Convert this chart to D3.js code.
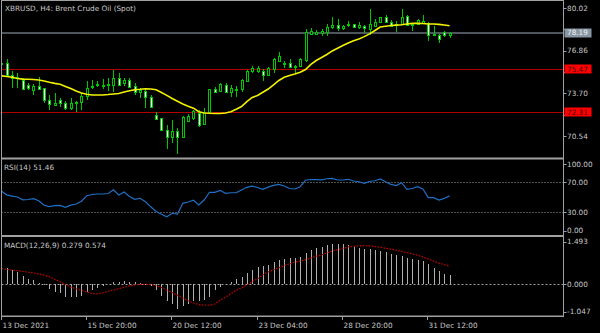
<!DOCTYPE html>
<html>
<head>
<meta charset="utf-8">
<script src="https://cdn.jsdelivr.net/npm/d3@7"></script>
<style>
  html, body { margin: 0; padding: 0; background: #000; }
  svg text { font-family: "DejaVu Sans", sans-serif; font-size: 7.3px; fill: #c8c8c8; }
</style>
</head>
<body>
<div id="chart"></div>
<script>
// XBRUSD H4 bars (prices)
const opens = [75.91, 75.91, 75.09, 74.85, 74.72, 74.35, 73.98, 74.24, 74.06, 73.17,
  72.87, 73.21, 73.02, 72.65, 73.01, 73.04, 73.50, 74.22, 74.33, 74.29,
  74.33, 74.35, 74.87, 74.43, 74.72, 74.24, 73.80, 73.87, 73.45, 72.09,
  71.84, 70.98, 70.49, 70.91, 70.49, 71.65, 71.85, 72.28, 71.43, 72.34,
  74.00, 73.89, 74.35, 73.82, 73.98, 74.00, 74.61, 75.32, 75.32, 75.38,
  75.06, 75.48, 76.12, 75.95, 75.97, 75.72, 75.75, 76.17, 78.10, 78.10,
  78.17, 78.27, 78.59, 78.76, 78.52, 78.81, 78.84, 78.61, 78.69, 78.44,
  78.69, 79.01, 79.33, 79.01, 78.81, 78.84, 79.43, 78.81, 78.84, 78.91,
  78.93, 78.04, 78.02, 78.27, 78.02];
const highs = [76.02, 76.21, 75.35, 75.24, 74.80, 74.43, 74.39, 74.91, 74.09, 73.58,
  73.72, 73.32, 73.13, 73.32, 73.13, 73.69, 74.61, 74.69, 74.58, 74.76,
  74.87, 75.46, 75.17, 74.87, 74.84, 74.50, 74.09, 74.06, 73.54, 72.35,
  71.87, 71.39, 71.72, 71.13, 72.02, 72.17, 72.47, 72.47, 72.61, 74.02,
  74.17, 74.43, 74.49, 74.32, 74.24, 74.76, 75.46, 75.72, 75.69, 75.50,
  75.65, 76.35, 76.76, 76.13, 76.24, 75.80, 76.28, 78.50, 78.52, 78.39,
  78.46, 78.84, 79.38, 79.17, 78.76, 79.06, 78.86, 78.98, 78.76, 79.92,
  79.17, 79.38, 79.50, 79.13, 79.08, 79.91, 79.50, 78.89, 79.18, 79.50,
  78.95, 78.69, 78.07, 78.34, 78.27];
const lows = [75.87, 75.02, 74.09, 74.06, 73.98, 73.95, 73.54, 73.98, 73.02, 72.47,
  72.76, 72.69, 72.43, 72.47, 72.34, 72.47, 73.24, 74.02, 74.17, 74.02,
  73.87, 73.83, 74.28, 74.28, 74.06, 73.61, 73.35, 72.61, 72.69, 71.80,
  70.95, 69.58, 70.02, 69.21, 70.46, 71.58, 71.72, 71.17, 71.35, 72.32,
  73.75, 73.83, 73.72, 73.46, 73.46, 73.80, 74.58, 75.23, 75.24, 74.65,
  74.98, 75.24, 76.04, 75.58, 75.65, 75.24, 75.69, 76.04, 78.02, 78.02,
  77.95, 77.95, 78.44, 78.34, 78.39, 78.59, 78.54, 78.44, 78.15, 78.02,
  78.64, 78.93, 78.93, 78.64, 78.27, 78.76, 78.69, 78.34, 78.76, 78.84,
  77.60, 77.95, 77.41, 77.89, 77.82];
const closes = [75.95, 75.06, 74.80, 74.89, 74.00, 74.06, 74.24, 74.02, 73.21, 72.91,
  73.02, 72.98, 72.61, 72.95, 73.06, 73.50, 74.06, 74.27, 74.38, 74.33,
  74.37, 74.87, 74.32, 74.72, 74.19, 73.78, 73.95, 73.45, 72.71, 71.82,
  70.98, 70.49, 70.91, 70.49, 71.97, 72.04, 72.39, 71.39, 72.32, 74.00,
  73.78, 74.38, 73.80, 74.13, 74.02, 74.69, 75.38, 75.58, 75.54, 75.06,
  75.55, 76.24, 76.46, 75.98, 75.67, 75.76, 76.22, 78.22, 78.34, 78.27,
  78.34, 78.64, 78.76, 78.52, 78.69, 78.85, 78.59, 78.76, 78.52, 78.84,
  79.01, 79.33, 79.01, 78.69, 78.86, 79.38, 78.76, 78.85, 79.13, 79.09,
  78.02, 78.10, 77.70, 78.02, 78.19];

// yellow moving average
const maValues = [75.00, 74.95, 74.89, 74.80, 74.75, 74.74, 74.72, 74.69, 74.61, 74.52,
  74.44, 74.37, 74.21, 74.05, 73.87, 73.72, 73.63, 73.58, 73.58, 73.58,
  73.61, 73.65, 73.69, 73.80, 73.89, 73.97, 74.00, 74.04, 74.02, 73.96,
  73.76, 73.55, 73.32, 73.11, 72.91, 72.74, 72.60, 72.34, 72.24, 72.22,
  72.21, 72.21, 72.24, 72.34, 72.52, 72.72, 73.09, 73.40, 73.54, 73.78,
  74.02, 74.32, 74.65, 74.89, 75.02, 75.13, 75.26, 75.46, 75.84, 76.13,
  76.35, 76.58, 76.84, 77.04, 77.24, 77.43, 77.60, 77.73, 77.90, 78.10,
  78.35, 78.61, 78.67, 78.72, 78.75, 78.78, 78.84, 78.88, 78.89, 78.87,
  78.84, 78.83, 78.81, 78.76, 78.71];

// RSI(14)
const rsiValues = [58.0, 52.9, 51.1, 50.0, 46.3, 46.7, 47.7, 45.1, 38.9, 37.2,
  38.4, 38.9, 36.3, 39.1, 40.7, 44.4, 51.7, 53.3, 54.0, 54.0,
  54.7, 59.7, 52.7, 56.7, 50.7, 46.9, 48.3, 43.7, 36.9, 30.7,
  27.1, 23.7, 28.3, 27.3, 41.6, 43.3, 45.6, 39.3, 46.0, 56.3,
  56.3, 58.9, 54.9, 55.7, 55.7, 59.3, 62.9, 64.4, 62.7, 60.3,
  63.1, 65.5, 66.7, 64.7, 61.3, 60.7, 63.7, 72.4, 73.3, 73.1,
  72.9, 74.3, 74.9, 72.7, 72.7, 73.6, 71.3, 70.3, 68.3, 70.7,
  71.7, 74.0, 70.3, 66.9, 65.2, 69.1, 60.3, 61.3, 63.7, 60.7,
  49.1, 49.1, 46.0, 48.1, 51.46];

// MACD(12,26,9): main (histogram) and signal
const macdValues = [0.52, 0.50, 0.45, 0.40, 0.26, 0.17, 0.14, 0.05, -0.02, -0.16,
  -0.25, -0.28, -0.39, -0.39, -0.39, -0.36, -0.25, -0.18, -0.13, -0.05,
  0.01, 0.06, 0.08, 0.10, 0.08, 0.06, 0.03, -0.01, -0.05, -0.18,
  -0.37, -0.53, -0.63, -0.79, -0.68, -0.63, -0.53, -0.53, -0.49, -0.39,
  -0.18, -0.07, 0.02, 0.08, 0.16, 0.22, 0.37, 0.45, 0.54, 0.58,
  0.62, 0.70, 0.77, 0.80, 0.82, 0.82, 0.85, 0.98, 1.08, 1.14,
  1.19, 1.24, 1.28, 1.28, 1.27, 1.24, 1.19, 1.15, 1.11, 1.10,
  1.08, 1.05, 1.02, 0.96, 0.91, 0.89, 0.84, 0.80, 0.77, 0.73,
  0.63, 0.52, 0.42, 0.33, 0.279];
const signalValues = [0.50, 0.47, 0.45, 0.43, 0.41, 0.38, 0.36, 0.33, 0.29, 0.24,
  0.16, 0.08, 0.00, -0.09, -0.14, -0.19, -0.24, -0.29, -0.30, -0.27,
  -0.22, -0.18, -0.14, -0.09, -0.05, -0.02, 0.00, 0.00, 0.00, -0.05,
  -0.10, -0.18, -0.26, -0.35, -0.43, -0.52, -0.59, -0.64, -0.66, -0.66,
  -0.62, -0.50, -0.40, -0.30, -0.19, -0.11, -0.02, 0.08, 0.18, 0.30,
  0.39, 0.46, 0.52, 0.59, 0.64, 0.70, 0.73, 0.78, 0.83, 0.88,
  0.93, 0.99, 1.05, 1.09, 1.13, 1.18, 1.20, 1.22, 1.22, 1.21,
  1.19, 1.17, 1.14, 1.11, 1.08, 1.04, 1.00, 0.96, 0.92, 0.86,
  0.80, 0.73, 0.67, 0.62, 0.574];

// axes
const timeTickIndex = [0, 16, 32, 48, 64, 80];
const timeTickLabels = ["13 Dec 2021", "15 Dec 20:00", "20 Dec 12:00", "23 Dec 04:00", "28 Dec 20:00", "31 Dec 12:00"];
const priceTicks = [80.02, 78.44, 76.86, 75.28, 73.70, 72.12, 70.54];
const rsiTicks = [100, 70, 30, 0];
const rsiLevels = [70, 30];
const macdTicks = [1.493, 0, -1.047];
const bidPrice = 78.19;
const redLevels = [75.47, 72.31];

const width = 600, height = 333;
const left = 1.5, right = 563.5;
const mainPane = { top: 1, bottom: 157.5 };
const rsiPane = { top: 159.5, bottom: 235 };
const macdPane = { top: 237, bottom: 316 };

const svg = d3.select("#chart")
              .append("svg")
              .attr("width", width)
              .attr("height", height)
              .style("display", "block")
              .style("background", "#000");

const x = d3.scaleLinear().domain([0, 84]).range([1.4, 449.6]);
const yP = d3.scaleLinear().domain([70.54, 80.02]).range([136, 8]);
const yR = d3.scaleLinear().domain([0, 100]).range([234.5, 159.5]);
const yM = d3.scaleLinear().domain([-1.047, 1.493]).range([317.5, 237]);
const cx = i => Math.round(x(i)) + 0.5;

const bars = d3.range(closes.length).map(i => ({ i, o: opens[i], h: highs[i], l: lows[i], c: closes[i] }));

// clip paths
const defs = svg.append("defs");
[["clipMain", mainPane], ["clipRsi", rsiPane], ["clipMacd", macdPane]].forEach(([id, p]) => {
  defs.append("clipPath").attr("id", id)
      .append("rect")
      .attr("x", left + 0.5).attr("y", p.top)
      .attr("width", right - left - 1).attr("height", p.bottom - p.top);
});

// ---- main pane ----
const gMain = svg.append("g").attr("clip-path", "url(#clipMain)");

gMain.selectAll("line.red")
     .data(redLevels)
     .join("line")
     .attr("class", "red")
     .attr("x1", left).attr("x2", right)
     .attr("y1", d => Math.round(yP(d)) + 0.5)
     .attr("y2", d => Math.round(yP(d)) + 0.5)
     .attr("stroke", "#b00000");

gMain.append("line")
     .attr("x1", left).attr("x2", right)
     .attr("y1", Math.round(yP(bidPrice)))
     .attr("y2", Math.round(yP(bidPrice)))
     .attr("stroke", "#4f555d")
     .attr("stroke-width", 2);

gMain.selectAll("line.wick")
     .data(bars)
     .join("line")
     .attr("class", "wick")
     .attr("x1", d => cx(d.i)).attr("x2", d => cx(d.i))
     .attr("y1", d => Math.round(yP(d.h)))
     .attr("y2", d => Math.round(yP(d.l)))
     .attr("stroke", "#00c800");

gMain.selectAll("rect.body")
     .data(bars)
     .join("rect")
     .attr("class", "body")
     .attr("x", d => cx(d.i) - 1)
     .attr("width", 2)
     .attr("y", d => Math.round(yP(Math.max(d.o, d.c))) + 0.5)
     .attr("height", d => Math.max(1, Math.round(yP(Math.min(d.o, d.c))) - Math.round(yP(Math.max(d.o, d.c)))))
     .attr("fill", d => d.c < d.o ? "#ffffff" : "#000000")
     .attr("stroke", "#00c800");

gMain.append("path")
     .datum(maValues)
     .attr("fill", "none")
     .attr("stroke", "#f2f200")
     .attr("stroke-width", 1.6)
     .attr("d", d3.line().x((d, i) => x(i)).y(d => yP(d)));

svg.append("text")
   .attr("x", 5).attr("y", 10.5)
   .text("XBRUSD, H4:  Brent Crude Oil (Spot)");

// ---- RSI pane ----
const gRsi = svg.append("g").attr("clip-path", "url(#clipRsi)");

gRsi.selectAll("line.lvl")
    .data(rsiLevels)
    .join("line")
    .attr("x1", left).attr("x2", right)
    .attr("y1", d => Math.round(yR(d)) + 0.5)
    .attr("y2", d => Math.round(yR(d)) + 0.5)
    .attr("stroke", "#a0a0a0")
    .attr("stroke-dasharray", "1,2");

gRsi.append("path")
    .datum(rsiValues)
    .attr("fill", "none")
    .attr("stroke", "#1f6fc4")
    .attr("stroke-width", 1.2)
    .attr("d", d3.line().x((d, i) => x(i)).y(d => yR(d)));

svg.append("text")
   .attr("x", 4).attr("y", 169.5)
   .text("RSI(14) " + rsiValues[rsiValues.length - 1].toFixed(2));

// ---- MACD pane ----
const gMacd = svg.append("g").attr("clip-path", "url(#clipMacd)");

gMacd.append("line")
     .attr("x1", left).attr("x2", right)
     .attr("y1", Math.round(yM(0)) + 0.5)
     .attr("y2", Math.round(yM(0)) + 0.5)
     .attr("stroke", "#a0a0a0")
     .attr("stroke-dasharray", "2,2");

gMacd.selectAll("line.hist")
     .data(macdValues)
     .join("line")
     .attr("x1", (d, i) => cx(i)).attr("x2", (d, i) => cx(i))
     .attr("y1", Math.round(yM(0)))
     .attr("y2", d => Math.round(yM(d)))
     .attr("stroke", "#b0b0b0");

gMacd.append("path")
     .datum(signalValues)
     .attr("fill", "none")
     .attr("stroke", "#d00000")
     .attr("stroke-width", 1.2)
     .attr("stroke-dasharray", "1.5,1.5")
     .attr("d", d3.line().x((d, i) => x(i)).y(d => yM(d)));

svg.append("text")
   .attr("x", 4).attr("y", 248)
   .text("MACD(12,26,9) " + macdValues[macdValues.length - 1].toFixed(3) + " " + signalValues[signalValues.length - 1].toFixed(3));

// ---- frames ----
const frame = "#a0a0a0";
svg.append("line").attr("x1", left).attr("x2", left).attr("y1", 0).attr("y2", macdPane.bottom + 0.5).attr("stroke", frame);
svg.append("line").attr("x1", right).attr("x2", right).attr("y1", 0).attr("y2", macdPane.bottom + 1).attr("stroke", frame);
svg.append("line").attr("x1", left).attr("x2", right).attr("y1", 0.5).attr("y2", 0.5).attr("stroke", frame);
svg.append("rect").attr("x", left).attr("y", 157.5).attr("width", right - left).attr("height", 2).attr("fill", frame);
svg.append("rect").attr("x", left).attr("y", 235).attr("width", right - left).attr("height", 2).attr("fill", frame);
svg.append("rect").attr("x", left).attr("y", 315.5).attr("width", right - left).attr("height", 1.5).attr("fill", frame);

// ---- right axes ----
const tagValues = [bidPrice].concat(redLevels);
function rightLabels(values, scale, pane, fmt, hidden) {
  values.forEach(v => {
    const yy = scale(v);
    const ty = Math.max(pane.top + 4.5, Math.min(pane.bottom - 4.5, yy));
    svg.append("line")
       .attr("x1", right).attr("x2", right + 3)
       .attr("y1", Math.round(ty) + 0.5).attr("y2", Math.round(ty) + 0.5)
       .attr("stroke", frame);
    // labels sitting under a price tag are covered by it
    if (hidden && hidden.some(h => Math.abs(scale(h) - yy) < 8)) return;
    svg.append("text")
       .attr("x", right + 3.5).attr("y", ty).attr("dy", "0.36em")
       .text(fmt(v));
  });
}
rightLabels(priceTicks, yP, mainPane, v => v.toFixed(2), tagValues);
rightLabels(rsiTicks, yR, rsiPane, v => v.toFixed(2));
rightLabels(macdTicks, yM, macdPane, v => v.toFixed(3));

// price tags
const tags = [{ v: bidPrice, bg: "#8996a3", fg: "#eef2f6" }]
  .concat(redLevels.map(v => ({ v, bg: "#ff0000", fg: "#3a0000" })));
tags.forEach(t => {
  const yy = yP(t.v);
  svg.append("rect")
     .attr("x", right + 1).attr("y", Math.round(yy) - 4.5)
     .attr("width", 27).attr("height", 9)
     .attr("fill", t.bg);
  svg.append("text")
     .attr("x", right + 3.5).attr("y", yy).attr("dy", "0.36em")
     .style("fill", t.fg)
     .text(t.v.toFixed(2));
});

// ---- time axis ----
timeTickIndex.forEach((ti, k) => {
  const tx = Math.max(left, cx(ti) - 1);
  svg.append("line")
     .attr("x1", tx).attr("x2", tx)
     .attr("y1", macdPane.bottom).attr("y2", macdPane.bottom + 4)
     .attr("stroke", frame);
  svg.append("text")
     .attr("x", tx + 1).attr("y", 328)
     .text(timeTickLabels[k]);
});
</script>
</body>
</html>
